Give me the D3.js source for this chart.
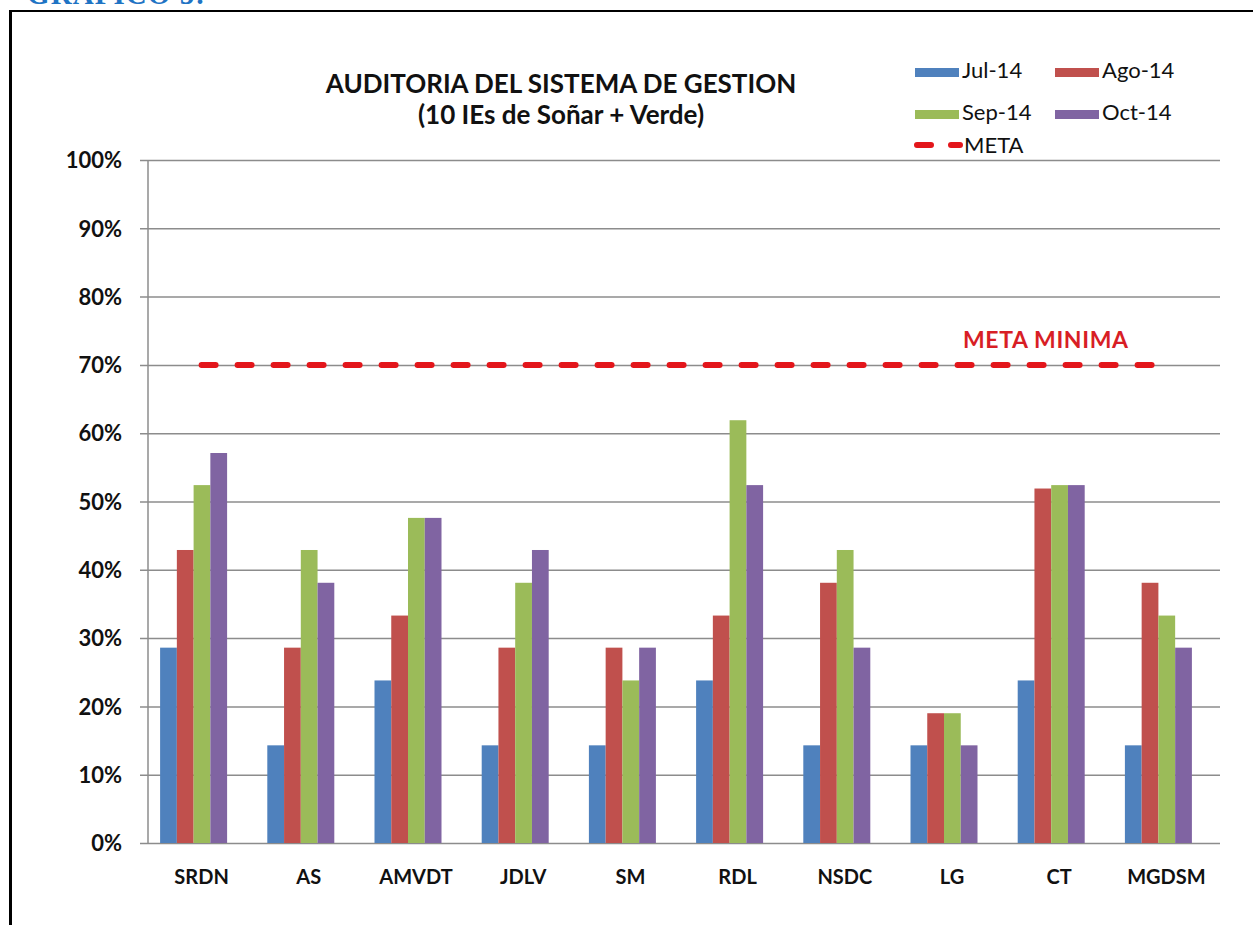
<!DOCTYPE html>
<html>
<head>
<meta charset="utf-8">
<script src="https://cdn.jsdelivr.net/npm/d3@7"></script>
<style>
    body { margin: 0; background: #ffffff; }
    svg { display: block; }
</style>
</head>
<body>
<div id="chart"></div>
<script>
// chart data
var categories = ["SRDN", "AS", "AMVDT", "JDLV", "SM", "RDL", "NSDC", "LG", "CT", "MGDSM"];
var seriesNames = ["Jul-14", "Ago-14", "Sep-14", "Oct-14"];
var jul14 = [28.6, 14.3, 23.8, 14.3, 14.3, 23.8, 14.3, 14.3, 23.8, 14.3];
var ago14 = [42.9, 28.6, 33.3, 28.6, 28.6, 33.3, 38.1, 19.0, 51.9, 38.1];
var sep14 = [52.4, 42.9, 47.6, 38.1, 23.8, 61.9, 42.9, 19.0, 52.4, 33.3];
var oct14 = [57.1, 38.1, 47.6, 42.9, 28.6, 52.4, 28.6, 14.3, 52.4, 28.6];
var metaValue = 70;
var yTicks = [0, 10, 20, 30, 40, 50, 60, 70, 80, 90, 100];

var colors = ["#4F81BD", "#C0504D", "#9BBB59", "#8064A2"];
var svgWidth = 1253;
var svgHeight = 925;
var plot = {left: 148, right: 1220, top: 160, bottom: 843};

var svg = d3.select("#chart").append("svg")
    .attr("width", svgWidth)
    .attr("height", svgHeight)
    .style("font-family", "Lato, 'Open Sans', sans-serif");

// cut off caption and frame of the document page
svg.append("text")
    .attr("x", 27)
    .attr("y", 4)
    .attr("fill", "#1f74c4")
    .style("font-family", "'Liberation Serif', serif")
    .style("font-weight", "bold")
    .style("font-size", "29px")
    .attr("textLength", 178)
    .text("GRAFICO 5:");

svg.append("line")
    .attr("x1", 9).attr("x2", svgWidth)
    .attr("y1", 11).attr("y2", 11)
    .attr("stroke", "#000").attr("stroke-width", 2);

svg.append("line")
    .attr("x1", 10.5).attr("x2", 10.5)
    .attr("y1", 10).attr("y2", svgHeight)
    .attr("stroke", "#000").attr("stroke-width", 3);

// scales
var x = d3.scaleBand()
    .domain(categories)
    .range([plot.left, plot.right]);

var y = d3.scaleLinear()
    .domain([0, 100])
    .range([plot.bottom, plot.top]);

var groupWidth = x.bandwidth() * 0.625;
var x1 = d3.scaleBand()
    .domain(seriesNames)
    .range([0, groupWidth]);

// gridlines + y labels
var yAxis = d3.axisLeft(y)
    .tickValues(yTicks)
    .tickSize(-(plot.right - plot.left + 8))
    .tickFormat(function (d) { return d + "%"; });

var gAxis = svg.append("g")
    .attr("transform", "translate(" + (plot.right) + ",0)")
    .call(yAxis);

gAxis.select(".domain").remove();
gAxis.selectAll(".tick line")
    .attr("x1", 0)
    .attr("x2", -(plot.right - plot.left + 8))
    .attr("stroke", "#8c8c8c")
    .attr("stroke-width", 1.5);
gAxis.selectAll(".tick text")
    .attr("x", -(plot.right - 122))
    .attr("dy", "0.35em")
    .attr("fill", "#111")
    .style("font-size", "22px")
    .style("font-weight", "bold")
    .style("font-family", "Lato, sans-serif");

// vertical axis line
svg.append("line")
    .attr("x1", plot.left).attr("x2", plot.left)
    .attr("y1", plot.top).attr("y2", plot.bottom)
    .attr("stroke", "#8c8c8c")
    .attr("stroke-width", 1.5);

// bars
var rows = categories.map(function (c, i) {
    return {cat: c, values: [jul14[i], ago14[i], sep14[i], oct14[i]]};
});

var groups = svg.selectAll(".group")
    .data(rows)
    .enter()
    .append("g")
    .attr("class", "group")
    .attr("transform", function (d) {
        return "translate(" + (x(d.cat) + x.bandwidth() / 2 - 8 - groupWidth / 2) + ",0)";
    });

groups.selectAll("rect")
    .data(function (d) {
        return d.values.map(function (v, k) { return {name: seriesNames[k], value: v, k: k}; });
    })
    .enter()
    .append("rect")
    .attr("x", function (d) { return x1(d.name); })
    .attr("width", x1.bandwidth())
    .attr("y", function (d) { return y(d.value); })
    .attr("height", function (d) { return plot.bottom - y(d.value); })
    .attr("fill", function (d) { return colors[d.k]; });

// category labels
svg.selectAll(".cat-label")
    .data(categories)
    .enter()
    .append("text")
    .attr("class", "cat-label")
    .attr("x", function (d) { return x(d) + x.bandwidth() / 2; })
    .attr("y", 884)
    .attr("text-anchor", "middle")
    .attr("fill", "#111")
    .style("font-size", "20px")
    .style("font-weight", "bold")
    .text(function (d) { return d; });

// META line at 70%
var metaLine = d3.line()
    .x(function (d) { return x(d) + x.bandwidth() / 2; })
    .y(function () { return y(metaValue); });

svg.append("path")
    .datum([categories[0], categories[categories.length - 1]])
    .attr("d", metaLine)
    .attr("fill", "none")
    .attr("stroke", "#e3161b")
    .attr("stroke-width", 6)
    .attr("stroke-linecap", "round")
    .attr("stroke-dasharray", "14,22");

svg.append("text")
    .attr("x", 963)
    .attr("y", 348)
    .attr("fill", "#d81e25")
    .style("font-size", "23px")
    .style("font-weight", "bold")
    .attr("textLength", 165)
    .text("META MINIMA");

// title
var title = svg.append("text")
    .attr("text-anchor", "middle")
    .attr("fill", "#111")
    .style("font-size", "26px")
    .style("font-weight", "bold");
title.append("tspan").attr("x", 561).attr("y", 93).text("AUDITORIA DEL SISTEMA DE GESTION");
title.append("tspan").attr("x", 561).attr("y", 124).text("(10 IEs de Soñar + Verde)");

// legend
var legendPos = [[915, 60], [1055, 60], [915, 102], [1055, 102]];
var legend = svg.selectAll(".legend-item")
    .data(seriesNames)
    .enter()
    .append("g")
    .attr("class", "legend-item")
    .attr("transform", function (d, i) {
        return "translate(" + legendPos[i][0] + "," + legendPos[i][1] + ")";
    });

legend.append("rect")
    .attr("x", 0).attr("y", 8)
    .attr("width", 44).attr("height", 9)
    .attr("fill", function (d, i) { return colors[i]; });

legend.append("text")
    .attr("x", 47)
    .attr("y", 18)
    .attr("fill", "#111")
    .style("font-size", "22px")
    .text(function (d) { return d; });

var metaLegend = svg.append("g").attr("transform", "translate(915,145)");
metaLegend.append("line")
    .attr("x1", 2).attr("x2", 45)
    .attr("y1", 0).attr("y2", 0)
    .attr("stroke", "#e3161b")
    .attr("stroke-width", 6)
    .attr("stroke-linecap", "round")
    .attr("stroke-dasharray", "14,20");
metaLegend.append("text")
    .attr("x", 49)
    .attr("y", 8)
    .attr("fill", "#111")
    .style("font-size", "22px")
    .text("META");
</script>
</body>
</html>
